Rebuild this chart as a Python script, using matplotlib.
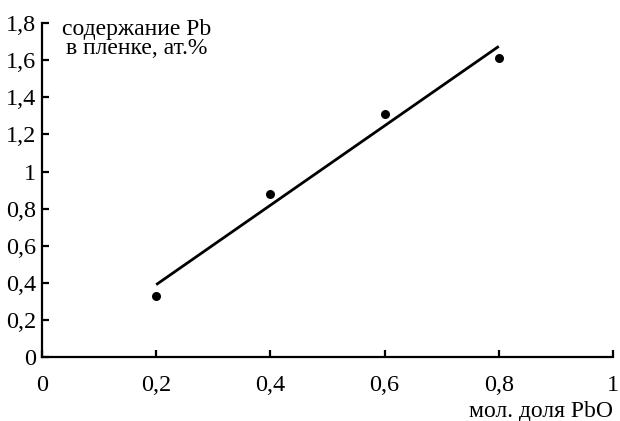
import matplotlib
matplotlib.use("Agg")
import matplotlib.pyplot as plt
from matplotlib.ticker import FuncFormatter

plt.rcParams['font.family'] = ['Liberation Serif', 'DejaVu Serif']

x_points = [0.2, 0.4, 0.6, 0.8]
y_points = [0.33, 0.88, 1.31, 1.61]
fit_x = [0.2, 0.8]
fit_y = [0.39, 1.675]
x_ticks = [0, 0.2, 0.4, 0.6, 0.8, 1]
y_ticks = [0, 0.2, 0.4, 0.6, 0.8, 1, 1.2, 1.4, 1.6, 1.8]
y_label = "содержание Pb\nв пленке, ат.%"
x_label = "мол. доля PbO"

fig = plt.figure(figsize=(6.2, 4.21), dpi=100)
ax = fig.add_axes([0.0677, 0.152, 0.9210, 0.793])
ax.plot(fit_x, fit_y, color='black', lw=2.0, solid_capstyle='butt')
ax.plot(x_points, y_points, 'o', color='black', ms=6.5, mec='none')

ax.set_xlim(0, 1)
ax.set_ylim(0, 1.8)
ax.set_xticks(x_ticks)
ax.set_yticks(y_ticks)

def fmt(v, pos):
    s = ('%g' % round(v, 2))
    return s.replace('.', ',')

ax.xaxis.set_major_formatter(FuncFormatter(fmt))
ax.yaxis.set_major_formatter(FuncFormatter(fmt))

for side in ['top', 'right']:
    ax.spines[side].set_visible(False)
for side in ['left', 'bottom']:
    ax.spines[side].set_linewidth(1.6)
ax.tick_params(axis='both', direction='in', length=5, width=1.6, labelsize=17.5)
ax.tick_params(axis='x', pad=13)
ax.tick_params(axis='y', pad=4)

fig.text(0.221, 0.955, y_label, ha='center', va='top', fontsize=17, linespacing=0.9)
fig.text(0.9887, 0.022, x_label, ha='right', va='center', fontsize=17)

fig.savefig('out.png', dpi=100)
